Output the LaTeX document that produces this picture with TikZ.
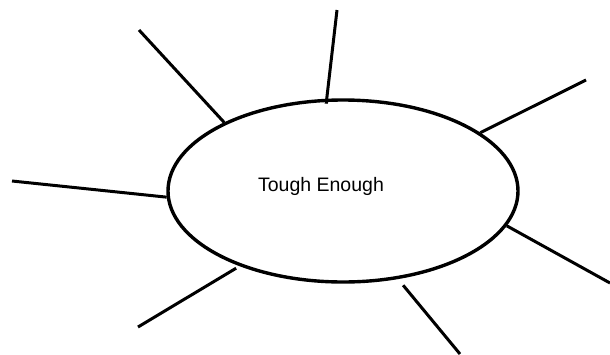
\documentclass[tikz,border=0pt]{standalone}
\usepackage{fontspec}
\setmainfont{Liberation Sans}
\usetikzlibrary{shapes.geometric}

\begin{document}
\begin{tikzpicture}[x=1pt,y=-1pt,line width=3pt]
\useasboundingbox (0,0) rectangle (610,354);

    % Draw the oval
    \node[ellipse, draw, line width=3.4pt, minimum width=350pt, minimum height=182pt, inner sep=0pt] (hub) at (343,191) {};
    \node[font=\fontsize{19.5}{23}\selectfont] (title) at (321,186) {Tough Enough};

    % Free ends of the spokes
    \coordinate (ul) at (139,30);
    \coordinate (up) at (337,10);
    \coordinate (ur) at (586,80);
    \coordinate (lf) at (12,181);
    \coordinate (dl) at (138,327);
    \coordinate (dr) at (610,283);
    \coordinate (dn) at (460,354);

    % Draw the spokes
    \draw (ul) -- (hub.150);
    \draw[shorten >=-5pt] (up) -- (hub.100);
    \draw (ur) -- (hub.23);
    \draw (lf) -- (hub.182.6);
    \draw[shorten >=4pt] (dl) -- (hub.216);
    \draw (dr) -- (hub.-12.5);
    \draw[shorten >=8pt] (dn) -- (hub.-58.6);

\end{tikzpicture}
\end{document}
